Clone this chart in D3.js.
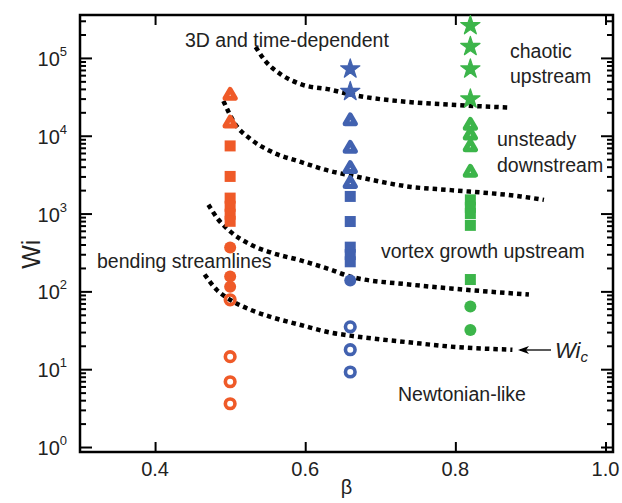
<!DOCTYPE html>
<html><head><meta charset="utf-8">
<script src="https://cdn.jsdelivr.net/npm/d3@7"></script>
<style>body{margin:0;background:#fff}svg{display:block}text{font-family:"Liberation Sans",Arial,sans-serif}</style>
</head><body>
<svg id="chart" width="622" height="503"></svg>
<script>
// ---- data ----
const xTicks = [0.4, 0.6, 0.8, 1.0];
const yMajorTicks = [1, 10, 100, 1000, 10000, 100000];
const yTickExponents = ["0", "1", "2", "3", "4", "5"];

const betaOrange = 0.5, betaBlue = 0.66, betaGreen = 0.82;
// orange (beta = 0.5)
const orangeTriangles = [34000, 15000];
const orangeSquares = [7400, 3000, 1580, 1240, 980, 795];
const orangeCircles = [366, 155, 115];
const orangeRings = [78, 14.5, 6.9, 3.6];
// blue (beta = 0.66)
const blueStars = [72000, 37000];
const blueTriangles = [16000, 7100, 3900, 2500];
const blueSquares = [1660, 790, 370, 297, 240];
const blueCircles = [138];
const blueRings = [35, 17.8, 9.2];
// green (beta = 0.82)
const greenStars = [260000, 140000, 72000, 29600];
const greenTriangles = [14000, 10500, 7400, 3500];
const greenSquares = [1500, 1200, 1000, 705, 142];
const greenCircles = [64, 32];

// boundary curves
const curve1Beta = [0.534, 0.547, 0.567, 0.594, 0.634, 0.660, 0.741, 0.794, 0.874];
const curve1Wi   = [138000, 91000, 62000, 46000, 39000, 34000, 27000, 25000, 23000];
const curve2Beta = [0.491, 0.507, 0.527, 0.554, 0.594, 0.634, 0.660, 0.741, 0.794, 0.887, 0.918];
const curve2Wi   = [28000, 14000, 9100, 6300, 4600, 3500, 3100, 2200, 2000, 1660, 1500];
const curve3Beta = [0.471, 0.484, 0.500, 0.527, 0.554, 0.594, 0.634, 0.660, 0.741, 0.794, 0.898];
const curve3Wi   = [1300, 845, 590, 400, 316, 250, 190, 155, 122, 109, 91];
const curve4Beta = [0.466, 0.482, 0.500, 0.527, 0.554, 0.594, 0.634, 0.660, 0.741, 0.794, 0.876];
const curve4Wi   = [165, 105, 78, 58, 47, 37, 29.5, 27, 22, 19.5, 17.8];

const colOrange = "#ef5a28", colBlue = "#4262b0", colGreen = "#3cb54a";

// ---- layout ----
const svg = d3.select("#chart");
const L = 80, R = 613, T = 15, B = 452;
const x = d3.scaleLinear().domain([0.3, 1.01]).range([L, R]);
const y = d3.scaleLog().domain([0.863, 356000]).range([B, T]);

// axes frame with ticks
const frame = svg.append("g");
const minorTicks = [];
for (let e = 0; e <= 5; e++) for (let k = 2; k <= 9; k++) {
  const v = k * Math.pow(10, e);
  if (v < 356000) minorTicks.push(v);
}
function yAxisTicks(gen, pos, len) {
  const g = frame.append("g").attr("transform", `translate(${pos},0)`).call(gen.tickSize(len).tickFormat(""));
  g.select(".domain").remove();
  g.selectAll("line").attr("stroke", "#000").attr("stroke-width", 2);
}
yAxisTicks(d3.axisRight(y).tickValues(yMajorTicks), L, 12);
yAxisTicks(d3.axisRight(y).tickValues(minorTicks), L, 6);
yAxisTicks(d3.axisLeft(y).tickValues(yMajorTicks), R, 12);
yAxisTicks(d3.axisLeft(y).tickValues(minorTicks), R, 6);
function xAxisTicks(gen, pos) {
  const g = frame.append("g").attr("transform", `translate(0,${pos})`).call(gen.tickValues(xTicks).tickSize(10).tickFormat(""));
  g.select(".domain").remove();
  g.selectAll("line").attr("stroke", "#000").attr("stroke-width", 2);
}
xAxisTicks(d3.axisTop(x), B);
xAxisTicks(d3.axisBottom(x), T);
frame.append("rect").attr("x", L).attr("y", T).attr("width", R - L).attr("height", B - T)
  .attr("fill", "none").attr("stroke", "#000").attr("stroke-width", 2.5);

// tick labels
svg.append("g").selectAll("text").data(xTicks).join("text")
  .attr("x", d => x(d)).attr("y", 476).attr("text-anchor", "middle")
  .attr("font-size", 20).attr("fill", "#222").text(d => d.toFixed(1));
const yl = svg.append("g").selectAll("text").data(yMajorTicks).join("text")
  .attr("x", 67).attr("y", d => y(d) + 8).attr("text-anchor", "end")
  .attr("font-size", 20).attr("fill", "#222");
yl.append("tspan").text("10");
yl.append("tspan").attr("dy", -10).attr("font-size", 13).text((d, i) => yTickExponents[i]);

// axis titles
svg.append("text").attr("x", x(0.655)).attr("y", 494).attr("text-anchor", "middle")
  .attr("font-size", 20).attr("fill", "#222").text("β");
svg.append("text").attr("transform", `translate(40,${y(300)}) rotate(-90)`).attr("text-anchor", "middle")
  .attr("font-size", 25).attr("fill", "#222").text("Wi");

// dotted curves
const line = d3.line().x(d => x(d[0])).y(d => y(d[1])).curve(d3.curveMonotoneX);
[[curve1Beta, curve1Wi], [curve2Beta, curve2Wi], [curve3Beta, curve3Wi], [curve4Beta, curve4Wi]].forEach(([b, w]) => {
  svg.append("path").datum(b.map((v, i) => [v, w[i]])).attr("d", line)
    .attr("fill", "none").attr("stroke", "#000").attr("stroke-width", 4.5).attr("stroke-dasharray", "4.5 4");
});

// markers
const mk = svg.append("g");
function squares(beta, vals, col) {
  mk.selectAll(null).data(vals).join("rect")
    .attr("x", x(beta) - 5.5).attr("y", d => y(d) - 5.5).attr("width", 11).attr("height", 11).attr("fill", col);
}
function circles(beta, vals, col) {
  mk.selectAll(null).data(vals).join("circle")
    .attr("cx", x(beta)).attr("cy", d => y(d)).attr("r", 6).attr("fill", col);
}
function rings(beta, vals, col) {
  mk.selectAll(null).data(vals).join("circle")
    .attr("cx", x(beta)).attr("cy", d => y(d)).attr("r", 4.8).attr("fill", "none").attr("stroke", col).attr("stroke-width", 3.6);
}
function triangles(beta, vals, col) {
  const p = d3.symbol(d3.symbolTriangle, 45);
  mk.selectAll(null).data(vals).join("path")
    .attr("transform", d => `translate(${x(beta)},${y(d) + 1})`).attr("d", p)
    .attr("fill", "none").attr("stroke", col).attr("stroke-width", 5).attr("stroke-linejoin", "round");
}
function stars(beta, vals, col) {
  const p = d3.symbol(d3.symbolStar, 115);
  mk.selectAll(null).data(vals).join("path")
    .attr("transform", d => `translate(${x(beta)},${y(d)})`).attr("d", p)
    .attr("fill", col).attr("stroke", col).attr("stroke-width", 1.2).attr("stroke-linejoin", "round");
}
triangles(betaOrange, orangeTriangles, colOrange);
squares(betaOrange, orangeSquares, colOrange);
circles(betaOrange, orangeCircles, colOrange);
rings(betaOrange, orangeRings, colOrange);
stars(betaBlue, blueStars, colBlue);
triangles(betaBlue, blueTriangles, colBlue);
squares(betaBlue, blueSquares, colBlue);
circles(betaBlue, blueCircles, colBlue);
rings(betaBlue, blueRings, colBlue);
stars(betaGreen, greenStars, colGreen);
triangles(betaGreen, greenTriangles, colGreen);
squares(betaGreen, greenSquares, colGreen);
circles(betaGreen, greenCircles, colGreen);

// annotations
const ann = svg.append("g").attr("font-size", 19.5).attr("fill", "#222");
ann.append("text").attr("x", 185).attr("y", 47).text("3D and time-dependent");
ann.append("text").attr("x", 510).attr("y", 58).text("chaotic");
ann.append("text").attr("x", 510).attr("y", 83).text("upstream");
ann.append("text").attr("x", 497).attr("y", 146).text("unsteady");
ann.append("text").attr("x", 497).attr("y", 172).text("downstream");
ann.append("text").attr("x", 381).attr("y", 258).text("vortex growth upstream");
ann.append("text").attr("x", 97).attr("y", 268).text("bending streamlines");
ann.append("text").attr("x", 398).attr("y", 401).text("Newtonian-like");
const wic = ann.append("text").attr("x", 555).attr("y", 358).attr("font-style", "italic").attr("font-size", 22);
wic.append("tspan").text("Wi");
wic.append("tspan").attr("dy", 4).attr("font-size", 15).text("c");
// arrow
svg.append("line").attr("x1", 551).attr("y1", 350).attr("x2", 520).attr("y2", 350)
  .attr("stroke", "#000").attr("stroke-width", 1.3);
svg.append("path").attr("d", "M518,350 L529,346 L526,350 L529,354 Z").attr("fill", "#000");
</script>
</body></html>
